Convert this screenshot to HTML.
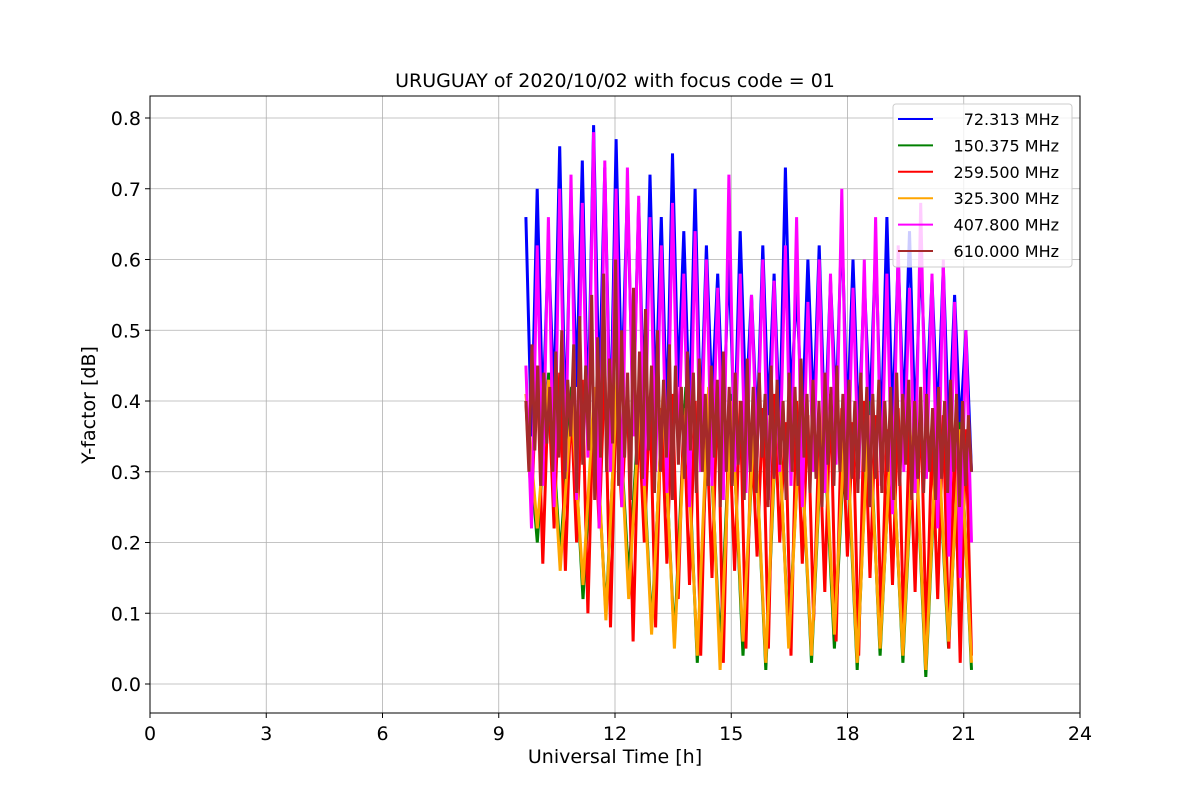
<!DOCTYPE html>
<html><head><meta charset="utf-8"><style>
body{margin:0;background:#fff;}
svg{display:block;font-family:"DejaVu Sans","Liberation Sans",sans-serif;}
</style></head><body>
<svg id="chart" width="1200" height="800"></svg>
<script>
const xTicks=[0,3,6,9,12,15,18,21,24];
const yTicks=[0.0,0.1,0.2,0.3,0.4,0.5,0.6,0.7,0.8];
const seriesNames=["72.313 MHz","150.375 MHz","259.500 MHz","325.300 MHz","407.800 MHz","610.000 MHz"];
const seriesColors=["blue","green","red","orange","magenta","brown"];
const tStart=9.7, tEnd=21.2;
const blue=[0.66,0.35,0.70,0.38,0.62,0.40,0.76,0.36,0.69,0.42,0.74,0.37,0.79,0.40,0.73,0.35,0.77,0.41,0.70,0.38,0.68,0.36,0.72,0.40,0.66,0.37,0.75,0.42,0.64,0.38,0.70,0.36,0.62,0.40,0.58,0.37,0.60,0.35,0.64,0.39,0.55,0.36,0.62,0.38,0.58,0.36,0.73,0.40,0.56,0.37,0.60,0.38,0.62,0.35,0.57,0.39,0.65,0.37,0.60,0.36,0.57,0.38,0.62,0.35,0.66,0.37,0.60,0.38,0.64,0.36,0.61,0.39,0.57,0.37,0.59,0.35,0.55,0.36,0.50,0.30];
const green=[0.40,0.20,0.44,0.18,0.42,0.12,0.40,0.10,0.43,0.15,0.41,0.08,0.40,0.06,0.42,0.03,0.39,0.05,0.41,0.04,0.38,0.02,0.40,0.06,0.37,0.03,0.39,0.05,0.38,0.02,0.40,0.04,0.37,0.03,0.38,0.01,0.36,0.05,0.37,0.02];
const red=[0.40,0.25,0.45,0.17,0.42,0.22,0.44,0.16,0.40,0.20,0.43,0.10,0.41,0.22,0.45,0.08,0.40,0.25,0.42,0.06,0.38,0.20,0.40,0.08,0.39,0.17,0.41,0.12,0.38,0.14,0.40,0.04,0.37,0.15,0.42,0.03,0.38,0.16,0.40,0.05,0.36,0.18,0.39,0.05,0.41,0.20,0.37,0.04,0.40,0.17,0.38,0.09,0.36,0.13,0.41,0.06,0.39,0.18,0.37,0.04,0.40,0.15,0.38,0.09,0.36,0.14,0.39,0.07,0.37,0.13,0.40,0.06,0.35,0.12,0.38,0.05,0.34,0.03,0.36,0.04];
const orange=[0.41,0.22,0.43,0.16,0.40,0.14,0.42,0.09,0.44,0.12,0.40,0.07,0.41,0.05,0.39,0.04,0.42,0.02,0.40,0.06,0.38,0.03,0.41,0.05,0.37,0.04,0.40,0.07,0.39,0.03,0.38,0.05,0.36,0.04,0.39,0.02,0.37,0.06,0.36,0.03];
const magenta=[0.45,0.22,0.62,0.28,0.66,0.25,0.70,0.30,0.72,0.26,0.68,0.32,0.78,0.22,0.74,0.30,0.70,0.25,0.73,0.35,0.69,0.28,0.66,0.30,0.62,0.27,0.68,0.33,0.58,0.25,0.64,0.30,0.60,0.28,0.56,0.26,0.72,0.30,0.58,0.27,0.55,0.32,0.60,0.26,0.57,0.30,0.62,0.28,0.66,0.25,0.54,0.30,0.60,0.27,0.58,0.31,0.70,0.26,0.56,0.29,0.60,0.25,0.66,0.28,0.58,0.24,0.62,0.30,0.56,0.27,0.68,0.29,0.58,0.22,0.60,0.18,0.54,0.15,0.50,0.20];
const brown=[0.40,0.30,0.48,0.33,0.45,0.28,0.44,0.34,0.42,0.30,0.47,0.32,0.50,0.29,0.43,0.35,0.48,0.27,0.52,0.31,0.45,0.33,0.55,0.26,0.49,0.32,0.58,0.30,0.46,0.34,0.60,0.28,0.50,0.32,0.44,0.26,0.56,0.31,0.47,0.29,0.53,0.33,0.45,0.27,0.50,0.30,0.43,0.32,0.48,0.26,0.45,0.31,0.42,0.29,0.47,0.33,0.44,0.27,0.46,0.30,0.41,0.28,0.45,0.32,0.43,0.25,0.47,0.30,0.42,0.28,0.44,0.31,0.40,0.26,0.46,0.30,0.42,0.27,0.44,0.32,0.41,0.25,0.45,0.29,0.43,0.31,0.40,0.26,0.44,0.30,0.42,0.28,0.46,0.32,0.41,0.27,0.43,0.29,0.40,0.25,0.44,0.31,0.42,0.28,0.45,0.30,0.41,0.26,0.43,0.29,0.40,0.27,0.44,0.30,0.42,0.25,0.41,0.29,0.43,0.27,0.40,0.30,0.42,0.26,0.44,0.28,0.41,0.31,0.43,0.26,0.40,0.29,0.42,0.27,0.41,0.30,0.39,0.26,0.42,0.29,0.40,0.27,0.43,0.30,0.41,0.25,0.40,0.28,0.38,0.30];
const allSeries=[blue,green,red,orange,magenta,brown];

const L=150,R=1080,T=96,B=713;
const xs=v=>L+(v-0)/24*(R-L);
const ys=v=>684-(v-0)/0.8*(684-118);
const svg=document.getElementById('chart');
const NS='http://www.w3.org/2000/svg';
function mk(tag,attrs,parent){const e=document.createElementNS(NS,tag);for(const k in attrs)e.setAttribute(k,attrs[k]);(parent||svg).appendChild(e);return e;}

const grid=mk('g',{});


xTicks.forEach(t=>{mk('line',{x1:xs(t),x2:xs(t),y1:T,y2:B,stroke:'#b0b0b0','stroke-width':0.8},grid);});
yTicks.forEach(t=>{mk('line',{x1:L,x2:R,y1:ys(t),y2:ys(t),stroke:'#b0b0b0','stroke-width':0.8},grid);});

const lines=mk('g',{});


allSeries.forEach((arr,si)=>{
  const n=arr.length;
  const pts=arr.map((v,i)=>xs(tStart+(tEnd-tStart)*i/(n-1)).toFixed(1)+','+ys(v).toFixed(1)).join(' ');
  const p=mk('polyline',{points:pts,fill:'none',stroke:seriesColors[si],'stroke-width':3,'stroke-linejoin':'miter'},lines);
  
  
});

const frame=mk('rect',{x:L,y:T,width:R-L,height:B-T,fill:'none',stroke:'#000','stroke-width':1});



const xa=mk('g',{});


xTicks.forEach(t=>{mk('line',{x1:xs(t),x2:xs(t),y1:B,y2:B+5,stroke:'#000'},xa);
  const tx=mk('text',{x:xs(t),y:B+27,'text-anchor':'middle','font-size':19},xa);tx.textContent=t;});
const ya=mk('g',{});


yTicks.forEach(t=>{mk('line',{x1:L-5,x2:L,y1:ys(t),y2:ys(t),stroke:'#000'},ya);
  const tx=mk('text',{x:L-9,y:ys(t)+7,'text-anchor':'end','font-size':19},ya);tx.textContent=t.toFixed(1);});

const xt=mk('text',{x:615,y:763,'text-anchor':'middle','font-size':19});xt.textContent='Universal Time [h]';

const yt=mk('text',{x:95,y:405,'text-anchor':'middle','font-size':19,transform:'rotate(-90 95 405)'});yt.textContent='Y-factor [dB]';

const ti=mk('text',{x:615,y:87,'text-anchor':'middle','font-size':19});ti.textContent='URUGUAY of 2020/10/02 with focus code = 01';


const lg=mk('g',{});


mk('rect',{x:893,y:104,width:179,height:163,rx:3,fill:'#fff','fill-opacity':0.8,stroke:'#ccc'},lg);
seriesNames.forEach((nm,i)=>{
  const y=119+i*26.4;
  const ent=mk('g',{},lg);
  
  
  mk('line',{x1:898,x2:933,y1:y,y2:y,stroke:seriesColors[i],'stroke-width':2},ent);
  const tx=mk('text',{x:1059,y:y+6,'text-anchor':'end','font-size':16},ent);tx.textContent=nm;
});
</script>
</body></html>
